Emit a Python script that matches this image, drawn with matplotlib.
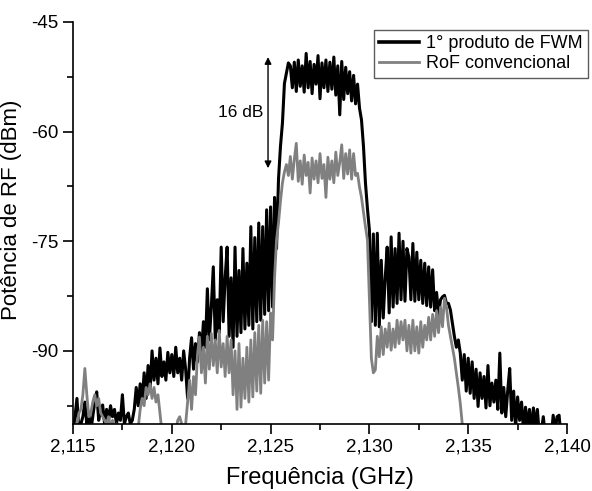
"""RF spectrum: FWM first product vs conventional RoF."""

import matplotlib
matplotlib.use("Agg")
import matplotlib.pyplot as plt
from matplotlib.ticker import FuncFormatter, MultipleLocator
import numpy as np

# trace sampled every 0.1 MHz from 2,115 to 2,140 GHz (251 points)
freq_start = 2.115
freq_stop = 2.140
n_points = 251

# values (dBm); -102 = below the axis floor
fwm_dbm = [
    -101, -99, -96.5, -101, -100, -99, -97, -100, -98.5, -101,
    -99, -97, -95.6, -99.5, -98, -97.4, -100, -98, -99.5, -97.5,
    -99, -98, -100, -98.5, -99.5, -96, -100, -99, -98.5, -100,
    -99.5, -98, -95, -97.5, -94.5, -97, -93, -96.5, -92, -95.5,
    -90, -94, -91, -94.5, -89.6, -93.5, -91.5, -94, -90.2, -93,
    -90.5, -93.5, -89.5, -93, -91, -94, -90, -92.5, -96.5, -91,
    -88.2, -92.5, -89, -91.5, -87.5, -90.5, -86, -89.5, -81.5, -88.5,
    -84, -78.5, -88.5, -83, -87.5, -75.8, -86, -80, -75.8, -88,
    -80, -89.5, -75.8, -88, -79, -87.5, -76, -87, -78, -86.5,
    -73, -87, -74.5, -86, -72.5, -85.8, -73, -85, -70.7, -84.5,
    -70.3, -84, -69, -76, -66.5, -62, -58.8, -53.4, -52, -50.6,
    -51, -54, -50.5, -54.5, -50.2, -53.8, -51, -54.6, -49.3, -54,
    -50.4, -54.8, -50.8, -53.5, -49.6, -55.5, -50.6, -54, -50.2, -54.5,
    -50.5, -54.2, -49.8, -55, -51, -57.7, -50.4, -55.6, -51.2, -54.8,
    -51.8, -55.8, -52.3, -56.2, -53.5, -56.8, -58.4, -62, -67, -70.5,
    -73.5, -86, -74, -86.5, -73.9, -86.7, -77.6, -85.5, -80, -75.8,
    -84.8, -74.4, -84, -76, -83.5, -73.9, -83, -75, -83.2, -76,
    -77.2, -83, -75.3, -83.2, -76.5, -83, -77.6, -83.5, -78, -83.8,
    -78.5, -84, -78.9, -84.5, -82, -85, -83, -82.6, -82.4, -83.5,
    -83.5, -84.4, -86.2, -88, -89.5, -88.5, -90.3, -94, -90.5, -95.5,
    -91, -95.8, -91.5, -96.5, -92.5, -97.6, -93, -96.5, -93.5, -97.8,
    -92, -97.5, -94.4, -97, -94, -98, -90.3, -98.5, -95, -99,
    -95.4, -92.4, -99.5, -95.5, -100.5, -96.3, -99.5, -97, -101, -97.7,
    -100.5, -98, -101, -97.8, -100.5, -98, -101.5, -101, -99, -101.5,
    -102, -101, -102, -98.8, -101, -99, -98.8, -102, -102, -101,
    -102,
]

rof_dbm = [
    -102, -101, -100, -98.5, -98, -96, -92.4, -96, -99, -98.5,
    -97, -96, -97.5, -96.5, -98.5, -99, -99.5, -100, -99, -100.5,
    -99.5, -100.5, -100, -101, -102, -102, -102, -102, -102, -102,
    -102, -102, -102, -100.5, -98, -96.5, -97.5, -95, -96, -94.5,
    -96.5, -95, -97, -96, -98.5, -101, -102, -102, -102, -102,
    -102, -102, -101, -99.5, -99, -100, -101, -100, -97, -94,
    -98, -93.5, -96, -90.5, -88.1, -93, -89.5, -94.4, -88, -92.5,
    -87.6, -92, -88.5, -93, -87.2, -92.2, -89, -93.5, -88, -93,
    -88.5, -96, -90, -98, -89, -97.7, -91, -96.5, -89.5, -97,
    -88.5, -96.3, -87.5, -95.5, -86.5, -95.8, -85.8, -94.4, -86, -94,
    -84.8, -88.5, -80, -74.8, -72.5, -69.5, -67, -65.5, -64.5, -66,
    -63.4, -66.5, -63.8, -61.6, -66.8, -64, -67.2, -63.2, -66, -64.2,
    -68.4, -63.6, -66.5, -64, -67, -63, -66.4, -64.5, -69, -63.5,
    -66.5, -64, -67, -62.8, -66, -64.2, -61.8, -66.4, -63, -65.8,
    -62.5, -66.5, -63, -66, -65.7, -67.6, -69, -71, -73, -74.8,
    -83, -91, -93, -92.6, -88, -90.8, -86.7, -90.5, -87, -89.5,
    -86.2, -89.9, -87, -89.5, -85.8, -89, -86, -88.5, -85.8, -90,
    -86.5, -90.3, -85.8, -90, -86.7, -90.3, -86, -89.5, -86.5, -88.5,
    -85.4, -88.5, -85, -88, -84.5, -87.5, -84, -86.7, -82.8, -84,
    -86.5, -88, -89.5, -91, -93, -95, -97.2, -100, -102, -102,
    -102, -102, -102, -102, -102, -102, -102, -102, -102, -102,
    -102, -102, -102, -102, -102, -102, -102, -102, -102, -102,
    -102, -102, -102, -102, -102, -102, -102, -102, -102, -102,
    -102, -102, -102, -102, -102, -102, -102, -102, -102, -102,
    -102, -102, -102, -102, -102, -102, -102, -102, -102, -102,
    -102,
]

labels = ["1° produto de FWM", "RoF convencional"]
gap_label = "16 dB"
gap_freq = 2.12487
gap_top, gap_bottom = -49.8, -65.0

plt.rcParams["font.family"] = ["Liberation Sans", "DejaVu Sans"]
plt.rcParams["axes.unicode_minus"] = False

freq = np.linspace(freq_start, freq_stop, n_points)

fig = plt.figure(figsize=(5.92, 4.91), dpi=100)
ax = fig.add_axes([73 / 592, 1 - 424 / 491, (567 - 73) / 592, (424 - 22) / 491])

ax.plot(freq, fwm_dbm, color="black", lw=2.2, label=labels[0])
ax.plot(freq, rof_dbm, color="#808080", lw=2.0, label=labels[1])

ax.annotate("", xy=(gap_freq, gap_top), xytext=(gap_freq, gap_bottom),
            arrowprops=dict(arrowstyle="<|-|>", color="black", lw=1,
                            mutation_scale=10, shrinkA=0, shrinkB=0))
ax.text(gap_freq - 0.00025, (gap_top + gap_bottom) / 2, gap_label,
        ha="right", va="center", fontsize=12.5)

ax.set_xlim(freq_start, freq_stop)
ax.set_ylim(-100, -45)
ax.xaxis.set_major_locator(MultipleLocator(0.005))
ax.xaxis.set_minor_locator(MultipleLocator(0.0025))
ax.yaxis.set_major_locator(MultipleLocator(15))
ax.yaxis.set_minor_locator(MultipleLocator(7.5))
ax.xaxis.set_major_formatter(FuncFormatter(lambda v, p: f"{v:.3f}".replace(".", ",")))
ax.yaxis.set_major_formatter(FuncFormatter(lambda v, p: f"{v:.0f}"))
for s in ("top", "right"):
    ax.spines[s].set_visible(False)
for s in ("left", "bottom"):
    ax.spines[s].set_linewidth(1.2)
ax.tick_params(which="major", direction="out", length=7, width=1.2, labelsize=13.5)
ax.tick_params(which="minor", direction="out", length=4, width=1.2)

ax.set_xlabel("Frequência (GHz)", fontsize=17, labelpad=8)
ax.set_ylabel("Potência de RF (dBm)", fontsize=16)
ax.yaxis.set_label_coords(-0.103, 0.532)

leg = ax.legend(loc="upper right", bbox_to_anchor=(588 / 592, 1 - 30 / 491),
                bbox_transform=fig.transFigure, borderaxespad=0, fontsize=13,
                frameon=True, fancybox=False, handlelength=2.2, labelspacing=0.15,
                borderpad=0.3, handletextpad=0.4)
leg.get_frame().set_edgecolor("#333333")
leg.get_frame().set_linewidth(1.0)
leg.get_lines()[0].set_linewidth(2.6)
leg.get_lines()[1].set_linewidth(2.0)

fig.savefig("out.png", dpi=100)
plt.close(fig)
